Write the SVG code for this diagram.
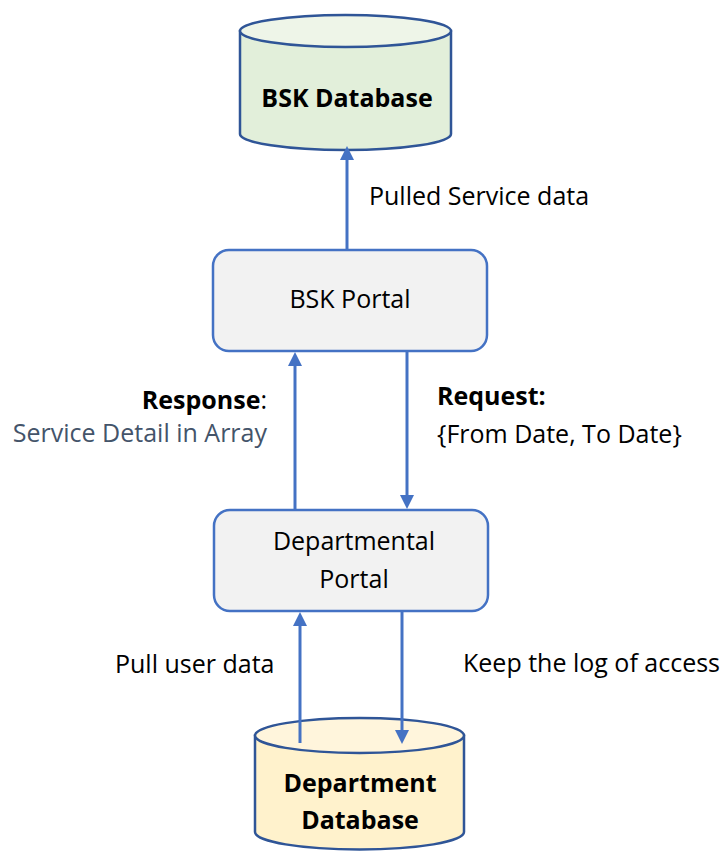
<svg xmlns="http://www.w3.org/2000/svg" width="727" height="852" viewBox="0 0 727 852">
  <style>
    .txt { font-family: "Open Sans", "Noto Sans", "DejaVu Sans", sans-serif; font-size: 25px; fill: #000; }
    .b { font-weight: bold; }
    .mid { text-anchor: middle; }
    .end { text-anchor: end; }
    .muted { fill: #44546A; }
    .box { fill: #F2F2F2; stroke: #4472C4; stroke-width: 2.5; }
    .cyl { stroke: #2F5597; stroke-width: 2.5; }
    .link { stroke: #4472C4; stroke-width: 3; fill: none; marker-end: url(#arrow); }
  </style>
  <defs>
    <marker id="arrow" markerUnits="userSpaceOnUse" markerWidth="14" markerHeight="14" refX="2" refY="7" orient="auto">
      <path d="M0,0 L14,7 L0,14 z" fill="#4472C4"/>
    </marker>
  </defs>

  <rect width="727" height="852" fill="#FFFFFF"/>

  <!-- BSK Database -->
  <g id="bsk-database">
    <path class="cyl" fill="#E2EFDA" d="M240,31 L240,134 A105.5,16 0 0 0 451,134 L451,31 Z"/>
    <ellipse class="cyl" cx="345.5" cy="31" rx="105.5" ry="16" fill="#EEF5E8"/>
    <text class="txt b mid" x="347" y="107">BSK Database</text>
  </g>

  <!-- BSK Portal -->
  <g id="bsk-portal">
    <rect class="box" x="213" y="250" width="274" height="101" rx="16"/>
    <text class="txt mid" x="350" y="308">BSK Portal</text>
  </g>

  <!-- Departmental Portal -->
  <g id="departmental-portal">
    <rect class="box" x="214" y="510" width="274" height="101" rx="16"/>
    <text class="txt mid" x="354" y="550">Departmental</text>
    <text class="txt mid" x="354" y="588">Portal</text>
  </g>

  <!-- Department Database -->
  <g id="department-database">
    <path class="cyl" fill="#FFF2CC" d="M255,735.5 L255,832 A104.5,17.5 0 0 0 464,832 L464,735.5 Z"/>
    <ellipse class="cyl" cx="359.5" cy="735.5" rx="104.5" ry="17.5" fill="#FFF5DC"/>
    <text class="txt b mid" x="360" y="792">Department</text>
    <text class="txt b mid" x="360" y="829">Database</text>
  </g>

  <!-- connectors, drawn over the cylinder tops -->
  <g id="connectors">
    <path class="link" d="M347,251 L347,158"/>
    <path class="link" d="M295,510 L295,364"/>
    <path class="link" d="M407,351 L407,497"/>
    <path class="link" d="M300,743 L300,624"/>
    <path class="link" d="M402,611 L402,732"/>
  </g>

  <!-- edge labels -->
  <g id="labels">
    <text class="txt" x="369" y="205">Pulled Service data</text>
    <text class="txt end" x="267" y="409"><tspan class="b">Response</tspan>:</text>
    <text class="txt end muted" x="267" y="442">Service Detail in Array</text>
    <text class="txt b" x="437" y="405">Request:</text>
    <text class="txt" x="437" y="443">{From Date, To Date}</text>
    <text class="txt" x="115" y="673">Pull user data</text>
    <text class="txt" x="463" y="672">Keep the log of access</text>
  </g>
</svg>
